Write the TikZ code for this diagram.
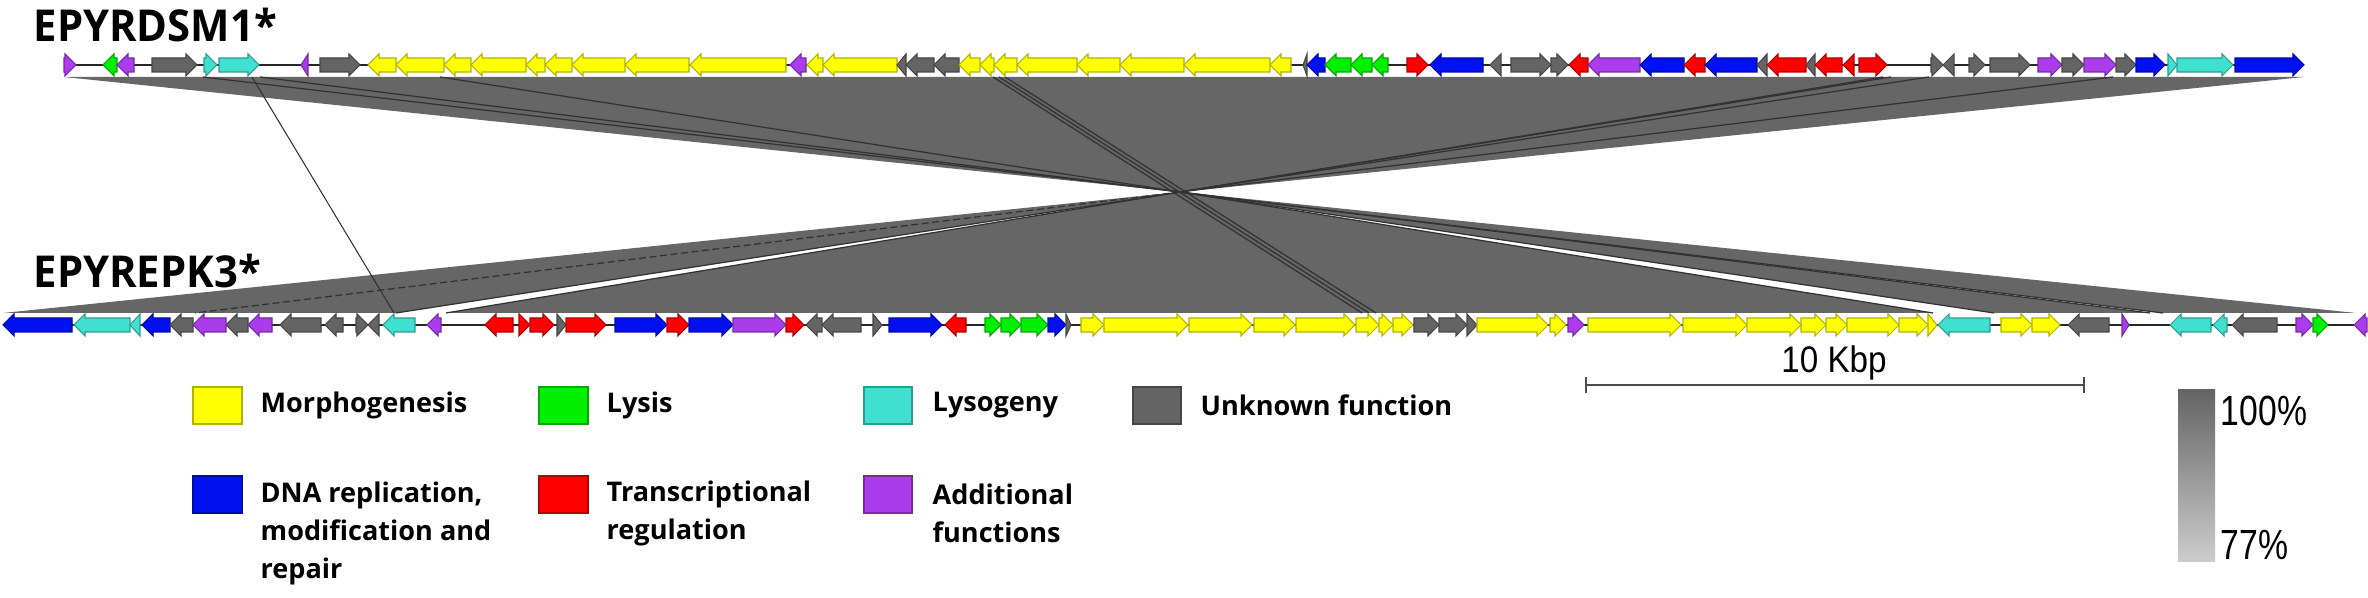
\documentclass[tikz,border=0pt]{standalone}
\usepackage{fontspec}
\setmainfont{Open Sans}
\newfontfamily\titlefont[FakeStretch=0.95]{Open Sans}
\newfontfamily\legfont{Open Sans}
\newfontfamily\numfont[FakeStretch=0.8]{Liberation Sans}
\newfontfamily\kbpfont[FakeStretch=0.9]{Liberation Sans}
\definecolor{yel}{RGB}{255,255,0}
\definecolor{grn}{RGB}{0,240,0}
\definecolor{cya}{RGB}{64,224,208}
\definecolor{gry}{RGB}{100,100,100}
\definecolor{blu}{RGB}{0,16,240}
\definecolor{red}{RGB}{255,0,0}
\definecolor{pur}{RGB}{170,60,235}
\definecolor{bandgray}{RGB}{102,102,102}
\definecolor{bandline}{RGB}{50,50,50}
\definecolor{gradtop}{RGB}{100,100,100}
\definecolor{gradbot}{RGB}{205,205,205}
\newcommand\genearrow[5]{%
  \ifnum#4=1
    \pgfmathsetmacro\hx{max(#1,#2-11)}%
    \filldraw[genestyle, fill=#5, draw=#5!70!black] (#1,#3-7) -- (\hx,#3-7) -- (\hx,#3-11) -- (#2,#3) -- (\hx,#3+11) -- (\hx,#3+7) -- (#1,#3+7) -- cycle;
  \else
    \pgfmathsetmacro\hx{min(#2,#1+11)}%
    \filldraw[genestyle, fill=#5, draw=#5!70!black] (#2,#3-7) -- (\hx,#3-7) -- (\hx,#3-11) -- (#1,#3) -- (\hx,#3+11) -- (\hx,#3+7) -- (#2,#3+7) -- cycle;
  \fi}
\begin{document}
\begin{tikzpicture}[x=0.01cm,y=-0.01cm,
  genestyle/.style={line width=0.3pt, line join=miter},
  track/.style={draw=black!85, line width=0.65pt},
  band/.style={fill=bandgray, draw=none},
  bline/.style={draw=bandline, line width=0.35pt},
  legbox/.style={draw=#1!70!black, fill=#1, line width=0.3pt},
  legtext/.style={font=\legfont\bfseries\fontsize{7.7}{10.8}\selectfont, anchor=west, inner sep=0pt, align=left},
  title/.style={font=\titlefont\bfseries\fontsize{12.5}{14}\selectfont, anchor=base west, inner sep=0pt}]
\useasboundingbox[fill=white] (0,0) rectangle (2368,598);
\coordinate (X) at (1180,192);
% ---- similarity bands ----
\fill[band] (64,77) -- (2304,77) -- (X) -- cycle;
\fill[band] (3,313) -- (396,313) -- (X) -- cycle;
\fill[band] (446,313) -- (1933,313) -- (X) -- cycle;
\fill[band] (1994,313) -- (2150,313) -- (X) -- cycle;
\fill[band] (2163,313) -- (2356,313) -- (X) -- cycle;
\foreach \t in {203,260,440,1883,1891,1929,2113}{\draw[bline] (\t,77) -- (X);}
\draw[bline, dashed, dash pattern=on 2pt off 1pt] (X) -- (195,313);
\foreach \t in {396,446,1933,1994,2150,2163}{\draw[bline] (X) -- (\t,313);}
\draw[bline] (993,77) -- (1362,313);
\draw[bline] (999,77) -- (1369,313);
\draw[bline] (1005,77) -- (1376,313);
\draw[bline, line width=0.3pt] (252,77) -- (394,313);
% ---- tracks ----
\draw[track] (64,65) -- (2304,65);
\draw[track] (3,325) -- (2367,325);
\foreach \a/\b/\d/\c in {64/76/1/pur,103/117/0/grn,117/134/0/pur,152/197/1/gry,204/217/1/cya,219/259/1/cya,
 301/308/0/pur,320/360/1/gry,368/396/0/yel,396/444/0/yel,444/471/0/yel,471/526/0/yel,526/545/0/yel,545/572/0/yel,
 572/625/0/yel,625/689/0/yel,690/786/0/yel,790/806/0/pur,807/823/0/yel,823/897/0/yel,897/906/0/gry,906/934/0/gry,
 934/959/0/gry,959/980/0/yel,980/994/0/yel,994/1017/0/yel,1017/1077/0/yel,1077/1120/0/yel,1120/1184/0/yel,
 1184/1270/0/yel,1270/1291/0/yel,1303/1307/0/gry,1307/1325/0/blu,1325/1351/0/grn,1351/1372/0/grn,1372/1388/0/grn,
 1407/1428/1/red,1430/1483/0/blu,1490/1501/0/gry,1511/1551/1/gry,1551/1568/1/gry,1569/1588/0/red,1588/1640/0/pur,
 1640/1684/0/blu,1684/1705/0/red,1705/1757/0/blu,1757/1767/0/gry,1767/1806/0/red,1806/1815/0/gry,1815/1842/0/red,
 1843/1854/0/red,1859/1887/1/red,1931/1943/1/gry,1943/1954/0/gry,1969/1985/1/gry,1990/2030/1/gry,2038/2062/1/pur,
 2062/2084/1/gry,2084/2116/1/pur,2116/2136/1/gry,2136/2165/1/blu,2168/2177/1/cya,2177/2233/1/cya,2235/2304/1/blu}
 {\genearrow{\a}{\b}{65}{\d}{\c}}
\foreach \a/\b/\d/\c in {3/72/0/blu,74/130/0/cya,130/140/0/cya,142/170/0/blu,170/193/0/gry,193/226/0/pur,226/248/0/gry,
 248/272/0/pur,280/321/0/gry,325/343/0/gry,356/368/1/gry,368/379/0/gry,383/415/0/cya,427/441/0/pur,485/513/0/red,
 519/530/1/red,530/554/1/red,557/566/1/gry,566/606/1/red,615/667/1/blu,667/689/1/red,689/733/1/blu,733/786/1/pur,
 786/804/1/red,806/822/0/gry,822/861/0/gry,873/882/1/gry,889/942/1/blu,945/966/0/red,985/1001/1/grn,1001/1021/1/grn,
 1021/1048/1/grn,1048/1066/1/blu,1066/1071/1/gry,1081/1104/1/yel,1104/1188/1/yel,1189/1252/1/yel,1254/1295/1/yel,
 1296/1355/1/yel,1356/1379/1/yel,1379/1393/1/yel,1393/1413/1/yel,1414/1439/1/gry,1439/1467/1/gry,1467/1477/1/gry,
 1477/1548/1/yel,1550/1566/1/yel,1568/1584/1/pur,1588/1681/1/yel,1683/1747/1/yel,1747/1801/1/yel,1801/1826/1/yel,
 1826/1847/1/yel,1847/1899/1/yel,1899/1928/1/yel,1928/1937/1/yel,1938/1990/0/cya,2001/2032/1/yel,2032/2060/1/yel,
 2068/2109/0/gry,2122/2129/1/pur,2170/2211/0/cya,2213/2227/0/cya,2232/2277/0/gry,2296/2313/1/pur,2313/2328/1/grn,
 2354/2367/0/pur}
 {\genearrow{\a}{\b}{325}{\d}{\c}}
% ---- titles ----
\node[title] (t1) at (33,42) {EPYRDSM1*};
\node[title] (t2) at (33,288) {EPYREPK3*};
% ---- legend ----
\draw[legbox=yel] (193,387) rectangle (242,424);
\draw[legbox=grn] (539,387) rectangle (588,424);
\draw[legbox=cya] (864,387) rectangle (912,424);
\draw[legbox=gry] (1133,387) rectangle (1181,424);
\draw[legbox=blu] (193,476) rectangle (242,513);
\draw[legbox=red] (539,476) rectangle (588,513);
\draw[legbox=pur] (864,476) rectangle (912,513);
\node[legtext] (l1) at (260,405) {Morphogenesis};
\node[legtext] (l2) at (606,405) {Lysis};
\node[legtext] (l3) at (932,405) {Lysogeny};
\node[legtext] (l4) at (1200,405) {Unknown function};
\node[legtext] (l5) at (260,533) {DNA replication,\\modification and\\repair};
\node[legtext] (l6) at (606,513) {Transcriptional\\regulation};
\node[legtext] (l7) at (932,513) {Additional\\functions};
% ---- scale bar ----
\node[font=\kbpfont\fontsize{10.5}{12}\selectfont, anchor=base, inner sep=0pt] (kb) at (1834,373) {10 Kbp};
\draw[draw=black!70, line width=0.75pt] (1586,385) -- (2084,385);
\draw[draw=black!70, line width=0.6pt] (1586,377) -- (1586,393) (2084,377) -- (2084,393);
% ---- identity gradient ----
\shade[top color=gradtop, bottom color=gradbot] (2178,390) rectangle (2215,562);
\node[font=\numfont\fontsize{12}{14}\selectfont, anchor=north west, inner sep=0pt] (p100) at (2220,395) {100\%};
\node[font=\numfont\fontsize{12}{14}\selectfont, anchor=south west, inner sep=0pt] (p77) at (2220,560) {77\%};
\end{tikzpicture}
\end{document}
